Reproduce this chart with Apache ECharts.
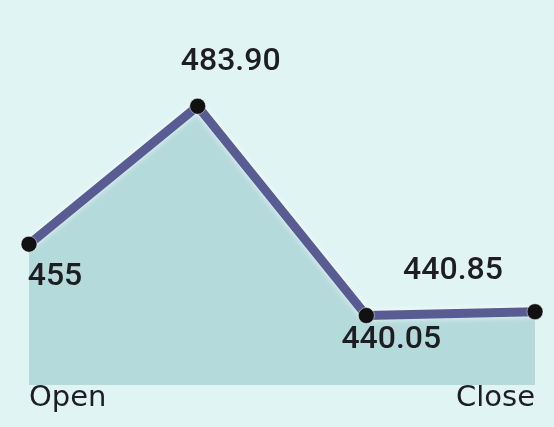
<!DOCTYPE html>
<html>
<head>
<meta charset="utf-8">
<script src="https://cdn.jsdelivr.net/npm/echarts@6/dist/echarts.min.js"></script>
<style>
html,body{margin:0;padding:0;background:#e0f4f3;}
#c{width:554px;height:427px;}
</style>
</head>
<body>
<div id="c"></div>
<script>
var categories = ['Open', '', '', 'Close'];
var values = [455, 483.90, 440.05, 440.85];
var valueLabels = ['455', '483.90', '440.05', '440.85'];
var labelOffsets = [[26, 33], [33, -44], [25, 24], [-82, -41]];

var chart = echarts.init(document.getElementById('c'));
chart.setOption({
  backgroundColor: '#e0f4f3',
  animation: false,
  grid: { left: 29, right: 19, top: 101, bottom: 42 },
  xAxis: {
    type: 'category',
    data: categories,
    boundaryGap: false,
    axisLine: { show: false },
    axisTick: { show: false },
    splitLine: { show: false },
    axisLabel: {
      interval: 0,
      margin: -1,
      color: '#1e1e22',
      fontFamily: 'DejaVu Sans',
      fontSize: 29,
      alignMinLabel: 'left',
      alignMaxLabel: 'right'
    }
  },
  yAxis: {
    type: 'value',
    min: 425.5,
    max: 485,
    show: false,
    splitLine: { show: false }
  },
  series: [{
    type: 'line',
    data: values.map(function (v, i) {
      return {
        value: v,
        label: {
          show: true,
          position: 'inside',
          offset: labelOffsets[i],
          formatter: valueLabels[i]
        }
      };
    }),
    symbol: 'circle',
    symbolSize: 16,
    itemStyle: { color: '#111111', borderColor: 'rgba(255,255,255,0.5)', borderWidth: 1 },
    lineStyle: { color: '#585c92', width: 9, shadowColor: 'rgba(255,255,255,0.8)', shadowBlur: 6 },
    areaStyle: { color: '#b5dadb', opacity: 1, origin: 'start' },
    label: {
      color: '#1e1e22',
      fontFamily: 'Roboto',
      fontSize: 32,
      fontWeight: 500,
      align: 'center',
      verticalAlign: 'middle'
    },
    emphasis: { disabled: true }
  }]
});
</script>
</body>
</html>
